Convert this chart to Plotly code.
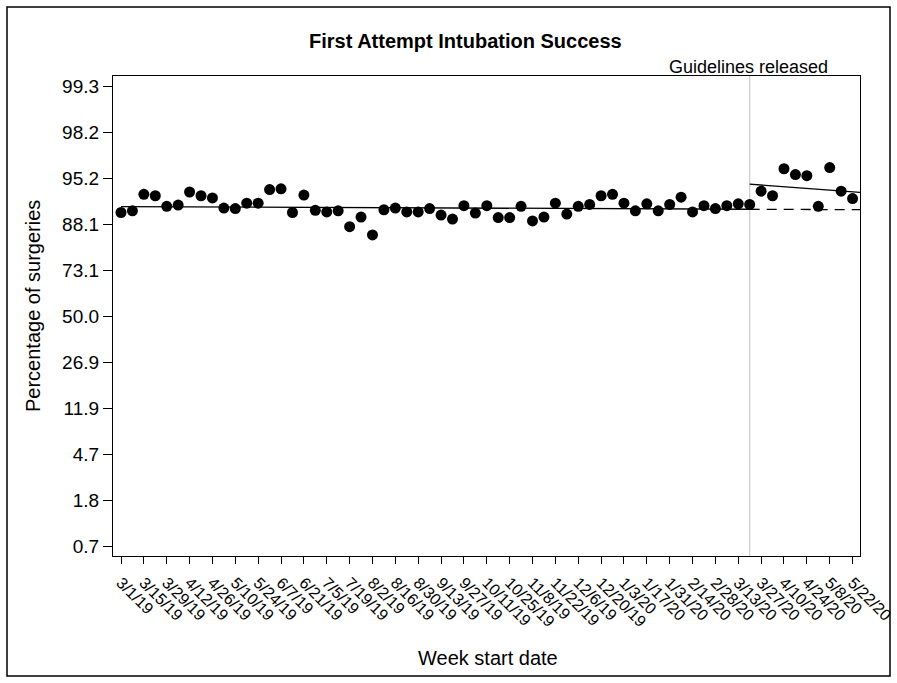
import math
import plotly.graph_objects as go

# Weekly first-attempt intubation success (%), weeks starting 3/1/19 through 5/22/20
success_pct = [
    90.5, 90.8, 93.4, 93.2, 91.6, 91.8, 93.7, 93.2, 92.9, 91.3,
    91.2, 92.1, 92.1, 94.0, 94.1, 90.5, 93.3, 90.9, 90.6, 90.8,
    87.5, 89.6, 85.4, 91.0, 91.3, 90.6, 90.6, 91.2, 90.0, 89.2,
    91.7, 90.4, 91.7, 89.5, 89.5, 91.6, 88.8, 89.6, 92.1, 90.2,
    91.6, 91.9, 93.2, 93.4, 92.1, 90.8, 92.0, 90.8, 91.9, 93.0,
    90.6, 91.7, 91.2, 91.7, 92.0, 91.9, 93.8, 93.2, 96.1, 95.6,
    95.5, 91.6, 96.2, 93.8, 92.8,
]
weeks = list(range(len(success_pct)))

# Tick labels every second week
week_labels = [
    "3/1/19", "3/15/19", "3/29/19", "4/12/19", "4/26/19", "5/10/19", "5/24/19",
    "6/7/19", "6/21/19", "7/5/19", "7/19/19", "8/2/19", "8/16/19", "8/30/19",
    "9/13/19", "9/27/19", "10/11/19", "10/25/19", "11/8/19", "11/22/19",
    "12/6/19", "12/20/19", "1/3/20", "1/17/20", "1/31/20", "2/14/20", "2/28/20",
    "3/13/20", "3/27/20", "4/10/20", "4/24/20", "5/8/20", "5/22/20",
]
label_weeks = list(range(0, len(success_pct), 2))

# Logit-scale y axis: ticks at logit -5..5, labelled as percentages
logit_ticks = [-5, -4, -3, -2, -1, 0, 1, 2, 3, 4, 5]
logit_tick_labels = ["0.7", "1.8", "4.7", "11.9", "26.9", "50.0",
                     "73.1", "88.1", "95.2", "98.2", "99.3"]

guideline_week = 55
# Segmented-regression fits (%): pre-period at weeks 0 and 55, post-period at weeks 55 and 64
pre_fit_weeks = [0, 55]
pre_fit_pct = [91.55, 91.09]
post_fit_weeks = [55, 64]
post_fit_pct = [94.63, 93.71]

X_RANGE = [-0.7, 64.65]
Y_RANGE = [-5.21, 5.22]


def logit(p):
    q = p / 100.0
    return math.log(q / (1.0 - q))


def fit_line(wk, pct, x0, x1):
    a, b = logit(pct[0]), logit(pct[1])
    slope = (b - a) / (wk[1] - wk[0])
    return [x0, x1], [a + slope * (x0 - wk[0]), a + slope * (x1 - wk[0])]


FONT = "Liberation Sans, Arial, sans-serif"

fig = go.Figure()

# pre-period trend
px, py = fit_line(pre_fit_weeks, pre_fit_pct, pre_fit_weeks[0], guideline_week)
fig.add_trace(go.Scatter(x=px, y=py, mode="lines",
                         line=dict(color="black", width=1.3), showlegend=False))
# counterfactual extension of pre-period trend
cx, cy = fit_line(pre_fit_weeks, pre_fit_pct, guideline_week, X_RANGE[1])
fig.add_trace(go.Scatter(x=cx, y=cy, mode="lines",
                         line=dict(color="black", width=1.3, dash="10px,7px"),
                         showlegend=False))
# post-period trend
qx, qy = fit_line(post_fit_weeks, post_fit_pct, guideline_week, X_RANGE[1])
fig.add_trace(go.Scatter(x=qx, y=qy, mode="lines",
                         line=dict(color="black", width=1.3), showlegend=False))

fig.add_trace(go.Scatter(
    x=weeks, y=[logit(p) for p in success_pct], mode="markers",
    marker=dict(color="black", size=11), showlegend=False,
    cliponaxis=False,
))

fig.add_shape(type="line", xref="x", yref="paper", x0=guideline_week,
              x1=guideline_week, y0=0, y1=1,
              line=dict(color="#cccccc", width=1.2), layer="below")

# page geometry (pixels)
W, H = 897, 683
L, R, T, B = 113, 37, 76, 127
pw, ph = W - L - R, H - T - B


def px_x(x):
    return (x - L) / pw


def px_y(y):
    return (H - B - y) / ph


# outer frame around the whole graphic
fig.add_shape(type="rect", xref="paper", yref="paper",
              x0=px_x(7), x1=px_x(890), y0=px_y(676), y1=px_y(7),
              line=dict(color="black", width=1.5), fillcolor="rgba(0,0,0,0)")

fig.add_annotation(text="Guidelines released", xref="paper", yref="paper",
                   x=px_x(830), y=px_y(67), xanchor="right", yanchor="middle",
                   showarrow=False, font=dict(family=FONT, size=18, color="black"))

fig.add_annotation(text="<b>First Attempt Intubation Success</b>", xref="paper",
                   yref="paper", x=px_x(465), y=px_y(41), xanchor="center",
                   yanchor="middle", showarrow=False,
                   font=dict(family=FONT, size=20, color="black"))

fig.add_annotation(text="Week start date", xref="paper", yref="paper",
                   x=px_x(488), y=px_y(658), xanchor="center", yanchor="middle",
                   showarrow=False, font=dict(family=FONT, size=20, color="black"))

fig.add_annotation(text="Percentage of surgeries", xref="paper", yref="paper",
                   x=px_x(33), y=px_y(306), xanchor="center", yanchor="middle",
                   textangle=-90, showarrow=False,
                   font=dict(family=FONT, size=20, color="black"))

fig.update_layout(
    width=W, height=H,
    margin=dict(l=L, r=R, t=T, b=B, autoexpand=False),
    paper_bgcolor="white", plot_bgcolor="white",
    font=dict(family=FONT, color="black"),
    xaxis=dict(range=X_RANGE, tickmode="array", tickvals=label_weeks,
               ticktext=week_labels, tickangle=45, ticks="outside",
               ticklen=7, tickcolor="black", showgrid=False, zeroline=False,
               showline=True, linecolor="black", linewidth=1.2, mirror=True,
               automargin=False, ticklabelstandoff=3,
               ticklabeloverflow="allow",
               tickfont=dict(family=FONT, size=16)),
    yaxis=dict(range=Y_RANGE, tickmode="array", tickvals=logit_ticks,
               ticktext=logit_tick_labels, ticks="outside", ticklen=9,
               tickcolor="black", showgrid=False, zeroline=False,
               showline=True, linecolor="black", linewidth=1.2, mirror=True,
               automargin=False,
               tickfont=dict(family=FONT, size=19)),
)

fig.write_html("out.html")
